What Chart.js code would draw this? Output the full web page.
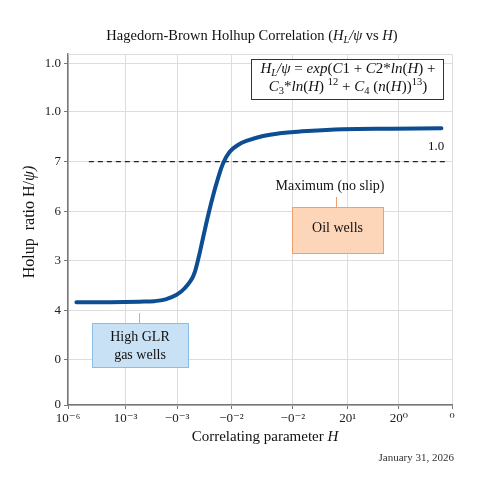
<!DOCTYPE html>
<html>
<head>
<meta charset="utf-8">
<script src="https://cdn.jsdelivr.net/npm/chart.js@4.4.1/dist/chart.umd.min.js"></script>
<style>
  body { margin: 0; background: #fff; }
  #wrap { width: 480px; height: 480px; }
</style>
</head>
<body>
<div id="wrap"><canvas id="myChart"></canvas></div>
<script>
// curve (axis units)
const holdupX = [0.153, 0.760, 1.307, 1.580, 1.780, 1.980, 2.127, 2.279, 2.370, 2.461, 2.552, 2.643, 2.734,
  2.826, 2.948, 3.099, 3.252, 3.555, 3.860, 4.194, 5.007, 5.919, 6.807];
const holdupY = [2.075, 2.077, 2.087, 2.098, 2.135, 2.225, 2.358, 2.592, 2.929, 3.374, 3.818, 4.222, 4.576,
  4.879, 5.117, 5.253, 5.333, 5.434, 5.489, 5.521, 5.570, 5.582, 5.590];

// "Maximum (no slip)" dashed level
const noSlipX = [0.38, 6.90];
const noSlipY = [4.915, 4.915];

// axis ticks as printed on the chart
const xTickPos = [0, 1.05, 1.99, 2.98, 4.10, 5.10, 6.03, 7];
const xTickLabels = ["10⁻⁶", "10⁻³", "−0⁻³", "−0⁻²", "−0⁻²", "20¹", "20⁰", "⁰"];
const yTickPos = [0, 0.91, 1.905, 2.915, 3.905, 4.915, 5.925, 6.90];
const yTickLabels = ["0", "0", "4", "3", "6", "7", "1.0", "1.0"];

const SERIF = '"Liberation Serif", "DejaVu Serif", serif';

function toPoints(xs, ys) {
  let pts = [];
  for (let i = 0; i < xs.length; i++) pts.push({ x: xs[i], y: ys[i] });
  return pts;
}

// segments: [text, flags]  i = italic, b = subscript, p = superscript
function drawRich(ctx, segs, cx, cy, size, color) {
  ctx.save();
  ctx.fillStyle = color || "#111";
  ctx.textBaseline = "middle";
  ctx.textAlign = "left";
  const fontOf = (f) => {
    const small = f.includes("b") || f.includes("p");
    return (f.includes("i") ? "italic " : "") + (small ? size * 0.7 : size) + "px " + SERIF;
  };
  let w = 0;
  segs.forEach((s) => {
    ctx.font = fontOf(s[1]);
    w += ctx.measureText(s[0]).width;
  });
  let x = cx - w / 2;
  segs.forEach((s) => {
    ctx.font = fontOf(s[1]);
    let dy = 0;
    if (s[1].includes("b")) dy = size * 0.3;
    if (s[1].includes("p")) dy = -size * 0.35;
    ctx.fillText(s[0], x, cy + dy);
    x += ctx.measureText(s[0]).width;
  });
  ctx.restore();
}

function box(ctx, x, y, w, h, fill, stroke) {
  ctx.save();
  ctx.fillStyle = fill;
  ctx.fillRect(x, y, w, h);
  ctx.strokeStyle = stroke;
  ctx.lineWidth = 1;
  ctx.strokeRect(x + 0.5, y + 0.5, w, h);
  ctx.restore();
}

function vline(ctx, x, y1, y2, color) {
  ctx.save();
  ctx.strokeStyle = color;
  ctx.lineWidth = 1;
  ctx.beginPath();
  ctx.moveTo(x, y1);
  ctx.lineTo(x, y2);
  ctx.stroke();
  ctx.restore();
}

const decorations = {
  id: "decorations",
  beforeDatasetsDraw(chart) {
    const ctx = chart.ctx;
    const a = chart.chartArea;
    ctx.save();
    ctx.strokeStyle = "#dddddd";
    ctx.lineWidth = 1;
    ctx.beginPath();
    ctx.moveTo(a.left, a.top + 0.5);
    ctx.lineTo(a.right, a.top + 0.5);
    ctx.stroke();
    ctx.restore();
  },
  afterDraw(chart) {
    const ctx = chart.ctx;

    // title
    drawRich(ctx, [["Hagedorn-Brown Holhup Correlation (", ""], ["H", "i"], ["L", "ib"],
      ["/ψ", "i"], [" vs ", ""], ["H", "i"], [")", ""]], 252, 36, 14.5);

    // formula box
    box(ctx, 251, 59, 192, 40, "#ffffff", "#333333");
    drawRich(ctx, [["H", "i"], ["L", "ib"], ["/ψ", "i"], [" = ", ""], ["exp", "i"], ["(", ""],
      ["C", "i"], ["1 + ", ""], ["C", "i"], ["2*", ""], ["ln", "i"], ["(", ""], ["H", "i"], [") +", ""]],
      348, 69, 15);
    drawRich(ctx, [["C", "i"], ["3", "b"], ["*", ""], ["ln", "i"], ["(", ""], ["H", "i"], [") ", ""],
      ["12", "p"], [" + ", ""], ["C", "i"], ["4", "b"], [" (", ""], ["n", "i"], ["(", ""], ["H", "i"],
      ["))", ""], ["13", "p"], [")", ""]], 348, 87, 15);

    // level labels
    drawRich(ctx, [["1.0", ""]], 436, 147, 13);
    drawRich(ctx, [["Maximum (no slip)", ""]], 330, 186, 14);

    // oil wells callout
    vline(ctx, 336.5, 197, 207, "#f0a068");
    box(ctx, 292, 207, 91, 46, "#fdd5b9", "#f0a068");
    drawRich(ctx, [["Oil wells", ""]], 337.5, 228, 14);

    // gas wells callout
    vline(ctx, 139.5, 313, 323, "#8cbde6");
    box(ctx, 92, 323, 96, 44, "#c8e1f5", "#8cbde6");
    drawRich(ctx, [["High GLR", ""]], 140, 337, 14);
    drawRich(ctx, [["gas wells", ""]], 140, 355, 14);

    // axis titles
    drawRich(ctx, [["Correlating parameter ", ""], ["H", "i"]], 265, 437, 15);
    ctx.save();
    ctx.translate(30, 222);
    ctx.rotate(-Math.PI / 2);
    drawRich(ctx, [["Holup  ratio H/", ""], ["ψ)", "i"]], 0, 0, 16);
    ctx.restore();

    // date
    ctx.save();
    ctx.font = "11px " + SERIF;
    ctx.fillStyle = "#333";
    ctx.textAlign = "right";
    ctx.textBaseline = "middle";
    ctx.fillText("January 31, 2026", 454, 458);
    ctx.restore();
  },
};

const data = {
  datasets: [
    {
      label: "Holdup",
      data: toPoints(holdupX, holdupY),
      borderColor: "#0d4e92",
      borderWidth: 4,
      pointRadius: 0,
      tension: 0.4,
      borderCapStyle: "round",
      fill: false,
    },
    {
      label: "No slip",
      data: toPoints(noSlipX, noSlipY),
      borderColor: "#222222",
      borderWidth: 1.2,
      borderDash: [5, 4],
      pointRadius: 0,
      fill: false,
    },
  ],
};

const config = {
  type: "line",
  data: data,
  options: {
    animation: false,
    responsive: true,
    maintainAspectRatio: false,
    layout: {
      padding: { top: 54, right: 28, left: 0, bottom: 0 },
    },
    scales: {
      x: {
        type: "linear",
        min: 0,
        max: 7,
        afterBuildTicks: (scale) => {
          scale.ticks = xTickPos.map((v) => ({ value: v }));
        },
        afterFit: (scale) => {
          scale.height = 75;
        },
        ticks: {
          autoSkip: false,
          maxRotation: 0,
          padding: 2,
          color: "#222",
          font: { family: SERIF, size: 13 },
          callback: (value, index) => xTickLabels[index],
        },
        grid: {
          color: "#dddddd",
          tickColor: "#777777",
          tickLength: 4,
        },
        border: { color: "#777777", width: 1.5 },
      },
      y: {
        type: "linear",
        min: 0,
        max: 7.09,
        afterBuildTicks: (scale) => {
          scale.ticks = yTickPos.map((v) => ({ value: v }));
        },
        afterFit: (scale) => {
          scale.width = 68;
        },
        ticks: {
          autoSkip: false,
          padding: 3,
          color: "#222",
          font: { family: SERIF, size: 13 },
          callback: (value, index) => yTickLabels[index],
        },
        grid: {
          color: "#dddddd",
          tickColor: "#777777",
          tickLength: 4,
        },
        border: { color: "#777777", width: 1.5 },
      },
    },
    plugins: {
      legend: { display: false },
      tooltip: { enabled: false },
    },
  },
  plugins: [decorations],
};

const myChart = new Chart(document.getElementById("myChart"), config);
</script>
</body>
</html>
